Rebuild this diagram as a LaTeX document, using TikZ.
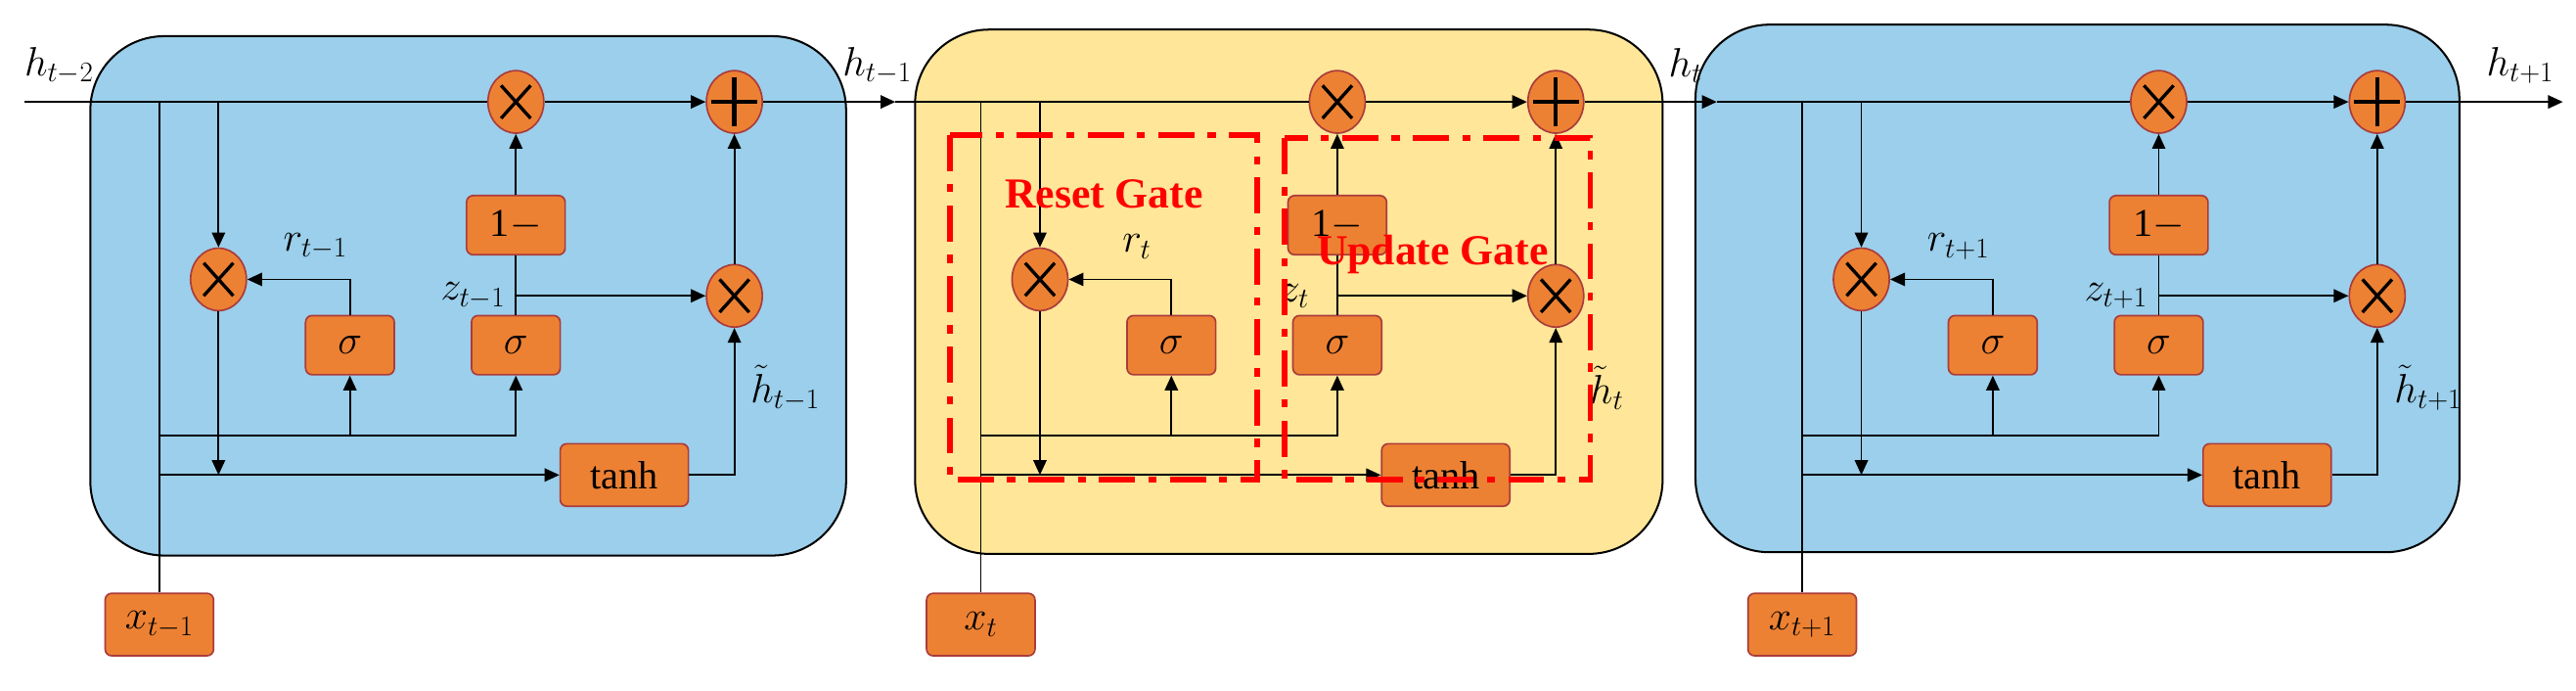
\documentclass[tikz,border=0pt]{standalone}
\usepackage{fontspec}
\setmainfont{Liberation Serif}
\usetikzlibrary{arrows.meta,shapes.geometric}
\definecolor{cblue}{RGB}{155,207,235}
\definecolor{cyel}{RGB}{255,230,153}
\definecolor{org}{RGB}{237,129,51}
\definecolor{opb}{RGB}{170,60,60}
\tikzset{
 ln/.style={line width=1.1pt},
 ar/.style={ln,-{Triangle[length=9pt,width=8pt]}},
 op/.style={ellipse,draw=opb,line width=1pt,fill=org,minimum width=34pt,minimum height=38pt,inner sep=0pt},
 mult/.style={op,path picture={\draw[black,line width=2pt]
   ([shift={(-9pt,-10pt)}]path picture bounding box.center) -- ++(18pt,20pt)
   ([shift={(-9pt,10pt)}]path picture bounding box.center) -- ++(18pt,-20pt);}},
 addop/.style={op,path picture={\draw[black,line width=2.6pt]
   ([shift={(-14pt,0pt)}]path picture bounding box.center) -- ++(28pt,0pt)
   ([shift={(0pt,15pt)}]path picture bounding box.center) -- ++(0pt,-30pt);}},
 fn/.style={rectangle,rounded corners=4pt,draw=opb,line width=1pt,fill=org,minimum width=54pt,minimum height=36pt,inner sep=0pt,font=\fontsize{24}{24}\selectfont},
 lab/.style={font=\fontsize{24}{24}\selectfont},
 cell/.style={draw=black,line width=1.2pt,rounded corners=45pt},
 gate/.style={draw=red,line width=3.5pt,dash pattern=on 22pt off 8pt on 5pt off 8pt},
 gatelab/.style={text=red,font=\fontsize{26}{26}\selectfont\bfseries},
}
\newcommand\grucell[3]{%
\begin{scope}[xshift=#2pt]
\node[mult] (#1ma) at (133,170) {};
\node[mult] (#1mt) at (314,62) {};
\node[addop] (#1pl) at (447,62) {};
\node[mult] (#1mr) at (447,180) {};
\node[fn] (#1sr) at (213,210) {\fontsize{32}{32}\selectfont$\sigma$};
\node[fn] (#1sz) at (314,210) {\fontsize{32}{32}\selectfont$\sigma$};
\node[fn,minimum width=60pt] (#1om) at (314,137) {1$-$};
\node[fn,minimum width=78pt,minimum height=38pt] (#1th) at (380,289) {tanh};
\node[fn,minimum width=66pt,minimum height=38pt] (#1x) at (97,380) {$x_{#3}$};
\coordinate (#1a) at (97,62);
\coordinate (#1b) at (133,62);
\coordinate (#1c) at (97,265);
\coordinate (#1d) at (97,289);
\coordinate (#1e) at (133,289);
\draw[ln] (#1x) -- (#1a);
\draw[ar] (#1b) -- (#1ma);
\draw[ar] (#1ma) -- (#1e);
\draw[ar] (#1c) -| (#1sz);
\draw[ar] (#1sr |- #1c) -- (#1sr);
\draw[ar] (#1d) -- (#1th);
\draw[ar] (#1sr) |- (#1ma);
\draw[ln] (#1sz) -- (#1om);
\draw[ar] (#1om) -- (#1mt);
\draw[ar] (#1sz |- #1mr) -- (#1mr);
\draw[ar] (#1th) -| (#1mr);
\draw[ar] (#1mr) -- (#1pl);
\draw[ar] (#1mt) -- (#1pl);
\node[lab] (#1rl) at (192,150) {$r_{#3}$};
\node[lab] (#1zl) at (288,180) {$z_{#3}$};
\node[lab] (#1hl) at (478,236) {$\tilde{h}_{#3}$};
\end{scope}}
\begin{document}
\begin{tikzpicture}[x=1pt,y=-1pt]
\useasboundingbox (0,0) rectangle (1568,420);
\draw[cell,fill=cblue] (55,22) rectangle (515,338);
\draw[cell,fill=cyel] (557,18) rectangle (1012,337);
\draw[cell,fill=cblue] (1032,15) rectangle (1497,336);
\grucell{A}{0}{t-1}
\grucell{B}{500}{t}
\grucell{C}{1000}{t+1}
\coordinate (s) at (15,62);
\coordinate (h1) at (545,62);
\coordinate (h2) at (1045,62);
\coordinate (e) at (1560,62);
\draw[ln] (s) -- (Amt);
\draw[ar] (Apl) -- (h1);
\draw[ln] (h1) -- (Bmt);
\draw[ar] (Bpl) -- (h2);
\draw[ln] (h2) -- (Cmt);
\draw[ar] (Cpl) -- (e);
\node[lab] (l0) at (36,40) {$h_{t-2}$};
\node[lab] (l1) at (534,40) {$h_{t-1}$};
\node[lab] (l2) at (1026,40) {$h_{t}$};
\node[lab] (l3) at (1534,40) {$h_{t+1}$};
\draw[gate] (578,82) rectangle (765,292);
\draw[gate] (782,84) rectangle (968,292);
\node[gatelab] (rg) at (672,118) {Reset Gate};
\node[gatelab] (ug) at (872,155) {Update Gate};
\end{tikzpicture}
\end{document}
